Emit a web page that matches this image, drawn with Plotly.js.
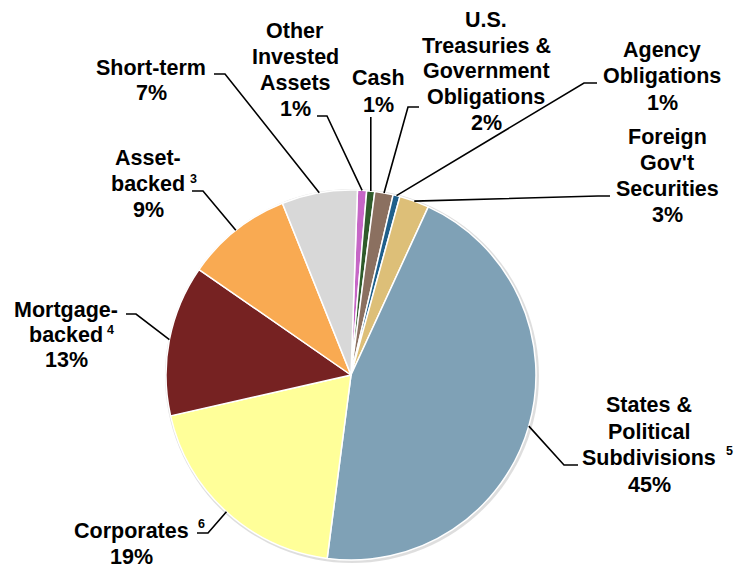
<!DOCTYPE html>
<html>
<head>
<meta charset="utf-8">
<script src="https://cdn.plot.ly/plotly-3.0.1.min.js"></script>
<style>html,body{margin:0;padding:0;background:#fff;}#chart{width:734px;height:569px;}</style>
</head>
<body>
<div id="chart"></div>
<script>
// ---- data ----
const categories = ['Other Invested Assets', 'Cash', 'U.S. Treasuries & Government Obligations', 'Agency Obligations',
  "Foreign Gov't Securities", 'States & Political Subdivisions', 'Corporates', 'Mortgage-backed', 'Asset-backed', 'Short-term'];
const values = [0.8, 0.7, 1.6, 0.6, 2.6, 45.2, 19.4, 13.2, 9.3, 6.6];
const pctLabels = ['1%', '1%', '2%', '1%', '3%', '45%', '19%', '13%', '9%', '7%'];
const labelLines = [['Other', 'Invested', 'Assets'], ['Cash'], ['U.S.', 'Treasuries &', 'Government', 'Obligations'],
  ['Agency', 'Obligations'], ['Foreign', "Gov't", 'Securities'], ['States &', 'Political', 'Subdivisions'],
  ['Corporates'], ['Mortgage-', 'backed'], ['Asset-', 'backed'], ['Short-term']];
const footnotes = [null, null, null, null, null, '5', '6', '4', '3', null];

// ---- styles / layout ----
const colors = ['#C666C6', '#2F5B2A', '#8B7060', '#1F5F8B', '#DDBF78', '#7FA1B6', '#FFFF99', '#762222', '#F9AA52', '#D8D8D8'];
const W = 734, H = 569;
const CX = 351, CY = 375, R = 185, ROT = 2;
const FONT = 'Liberation Sans, Arial, sans-serif';
const FS = 21.5;
// label block: center x, first line y, line spacing (px)
const labelPos = [
  {x: 295, y: 31, dy: 26}, {x: 378, y: 78, dy: 27}, {x: 486, y: 20, dy: 25.7}, {x: 662, y: 50, dy: 26.5},
  {x: 667, y: 137, dy: 26}, {x: 649, y: 405, dy: 26.7}, {x: 131, y: 531, dy: 25.5}, {x: 66, y: 310, dy: 24.8},
  {x: 148, y: 158, dy: 25.8}, {x: 151, y: 68, dy: 25.5}
];
const footPos = [null, null, null, null, null, {x: 729, y: 451}, {x: 201, y: 524}, {x: 110, y: 330}, {x: 193.5, y: 179}, null];
// leader line: fixed points near the label (px), then to pie edge
const leaderStart = [
  [[317, 116], [327, 116]], [[null, 117]], [[419, 107], [408, 107]], [[597, 83], [584, 83]],
  [[610, 196], [598, 196]], [[578, 465], [564, 465]], [[197, 533], [208, 533]], [[126, 314], [136, 314]],
  [[192, 191], [203, 191]], [[214, 74], [225, 74]]
];

const px = x => x / W, py = y => 1 - y / H;

// mid angles from data
const total = values.reduce((a, b) => a + b, 0);
let acc = 0;
const edgePts = values.map(v => {
  const mid = ROT + (acc + v / 2) / total * 360; acc += v;
  const a = mid * Math.PI / 180;
  return [CX + R * Math.sin(a), CY - R * Math.cos(a)];
});

const annotations = [];
labelLines.forEach((lines, i) => {
  const p = labelPos[i];
  const all = lines.concat([pctLabels[i]]);
  all.forEach((t, k) => {
    annotations.push({xref: 'paper', yref: 'paper', x: px(p.x), y: py(p.y + k * p.dy), xanchor: 'center', yanchor: 'middle',
      text: '<b>' + t + '</b>', showarrow: false, borderpad: 0, font: {family: FONT, size: FS, color: '#000'}});
  });
  if (footnotes[i]) {
    const f = footPos[i];
    annotations.push({xref: 'paper', yref: 'paper', x: px(f.x), y: py(f.y), xanchor: 'center', yanchor: 'middle',
      text: '<b>' + footnotes[i] + '</b>', showarrow: false, borderpad: 0, font: {family: FONT, size: 12.5, color: '#000'}});
  }
});

const shapes = [{type: 'circle', xref: 'paper', yref: 'paper', layer: 'below',
  x0: px(CX - R - 1), x1: px(CX + R + 3), y0: py(CY + R + 3), y1: py(CY - R - 1),
  fillcolor: 'rgba(0,0,0,0.13)', line: {width: 0}}];
leaderStart.forEach((pts, i) => {
  const e = edgePts[i];
  const p = pts.map(q => [q[0] === null ? e[0] : q[0], q[1]]).concat([e]);
  const d = p.map((q, k) => (k ? 'L' : 'M') + px(q[0]) + ',' + py(q[1])).join(' ');
  shapes.push({type: 'path', xref: 'paper', yref: 'paper', path: d, line: {color: '#000', width: 1.6}});
});

const trace = {
  type: 'pie', labels: categories, values: values, sort: false, direction: 'clockwise', rotation: ROT,
  textinfo: 'none', hoverinfo: 'label+percent',
  marker: {colors: colors, line: {color: '#fff', width: 1.5}},
  domain: {x: [px(CX - R), px(CX + R)], y: [py(CY + R), py(CY - R)]},
  showlegend: false
};

Plotly.newPlot('chart', [trace], {
  width: W, height: H, margin: {l: 0, r: 0, t: 0, b: 0},
  paper_bgcolor: '#fff', plot_bgcolor: '#fff', showlegend: false,
  annotations: annotations, shapes: shapes
}, {displayModeBar: false, staticPlot: true});
</script>
</body>
</html>
